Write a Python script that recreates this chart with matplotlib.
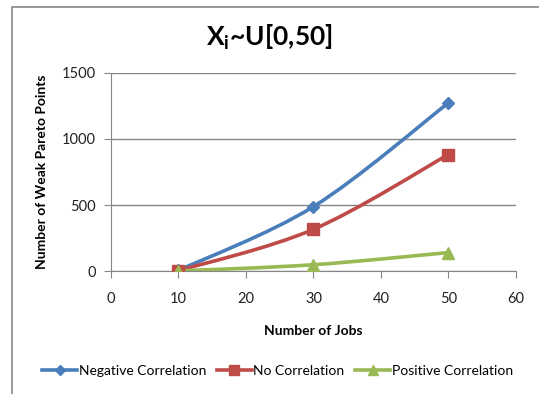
import matplotlib.pyplot as plt
from matplotlib.path import Path
from matplotlib.patches import PathPatch, Rectangle

plt.rcParams['font.family'] = ['Lato', 'DejaVu Sans']
plt.rcParams['mathtext.fontset'] = 'custom'
plt.rcParams['mathtext.rm'] = 'Lato'
plt.rcParams['mathtext.bf'] = 'Lato:bold'

# Number of jobs vs. number of weak Pareto points
jobs = [10, 30, 50]
negative = [5, 488, 1273]
no_corr = [3, 316, 882]
positive = [1, 48, 140]

series = [
    ('Negative Correlation', negative, '#4A7EBB', 'D', 6),
    ('No Correlation', no_corr, '#BE4B48', 's', 8),
    ('Positive Correlation', positive, '#98B954', '^', 8),
]


def smooth_path(xs, ys, t=1 / 6):
    # cubic Bezier segments through the points (Catmull-Rom style)
    pts = list(zip(xs, ys))
    verts = [pts[0]]
    codes = [Path.MOVETO]
    n = len(pts)
    for i in range(n - 1):
        p0 = pts[i - 1] if i > 0 else pts[i]
        p1 = pts[i]
        p2 = pts[i + 1]
        p3 = pts[i + 2] if i + 2 < n else pts[i + 1]
        c1 = (p1[0] + (p2[0] - p0[0]) * t, p1[1] + (p2[1] - p0[1]) * t)
        c2 = (p2[0] - (p3[0] - p1[0]) * t, p2[1] - (p3[1] - p1[1]) * t)
        verts += [c1, c2, p2]
        codes += [Path.CURVE4] * 3
    return Path(verts, codes)


fig = plt.figure(figsize=(5.39, 3.94), dpi=100)
ax = fig.add_axes([0.206, 0.312, 0.751, 0.503])

for name, vals, color, marker, ms in series:
    ax.add_patch(PathPatch(smooth_path(jobs, vals), facecolor='none',
                           edgecolor=color, lw=2.6, zorder=3))
    ax.plot(jobs, vals, linestyle='none', marker=marker, markersize=ms,
            color=color, zorder=4)
    # legend proxy
    ax.plot([], [], color=color, lw=2.6, marker=marker, markersize=ms - 1,
            label=name)

ax.set_xlim(0, 60)
ax.set_ylim(0, 1500)
ax.set_xticks(range(0, 61, 10))
ax.set_yticks(range(0, 1501, 500))
ax.yaxis.grid(True, color='#868686', lw=1)
ax.set_axisbelow(True)
for side in ['top', 'right']:
    ax.spines[side].set_visible(False)
for side in ['left', 'bottom']:
    ax.spines[side].set_color('#868686')
ax.tick_params(axis='both', colors='#868686', labelcolor='#222222',
               labelsize=10.5, length=5, direction='out')
ax.tick_params(axis='y', pad=6)
ax.tick_params(axis='x', pad=10)

ax.set_xlabel('Number of Jobs', fontsize=10, fontweight='bold', labelpad=14)
ax.set_ylabel('Number of Weak Pareto Points', fontsize=10, fontweight='bold',
              labelpad=10)
fig.text(0.50, 0.905, r'X$_{\mathbf{i}}$~U[0,50]', ha='center',
         va='center', fontsize=19, fontweight='bold')

ax.legend(loc='center', bbox_to_anchor=(0.515, 0.058),
          bbox_transform=fig.transFigure, ncol=3, frameon=False,
          fontsize=10, handlelength=2.5, columnspacing=0.8,
          handletextpad=0.1)

# chart area border
fig.patches.append(Rectangle((12 / 539, -0.1), 1.2, 1 - 7 / 394 + 0.1,
                             transform=fig.transFigure, fill=False,
                             edgecolor='#868686', lw=1.2))

fig.savefig('out.png', dpi=100)
